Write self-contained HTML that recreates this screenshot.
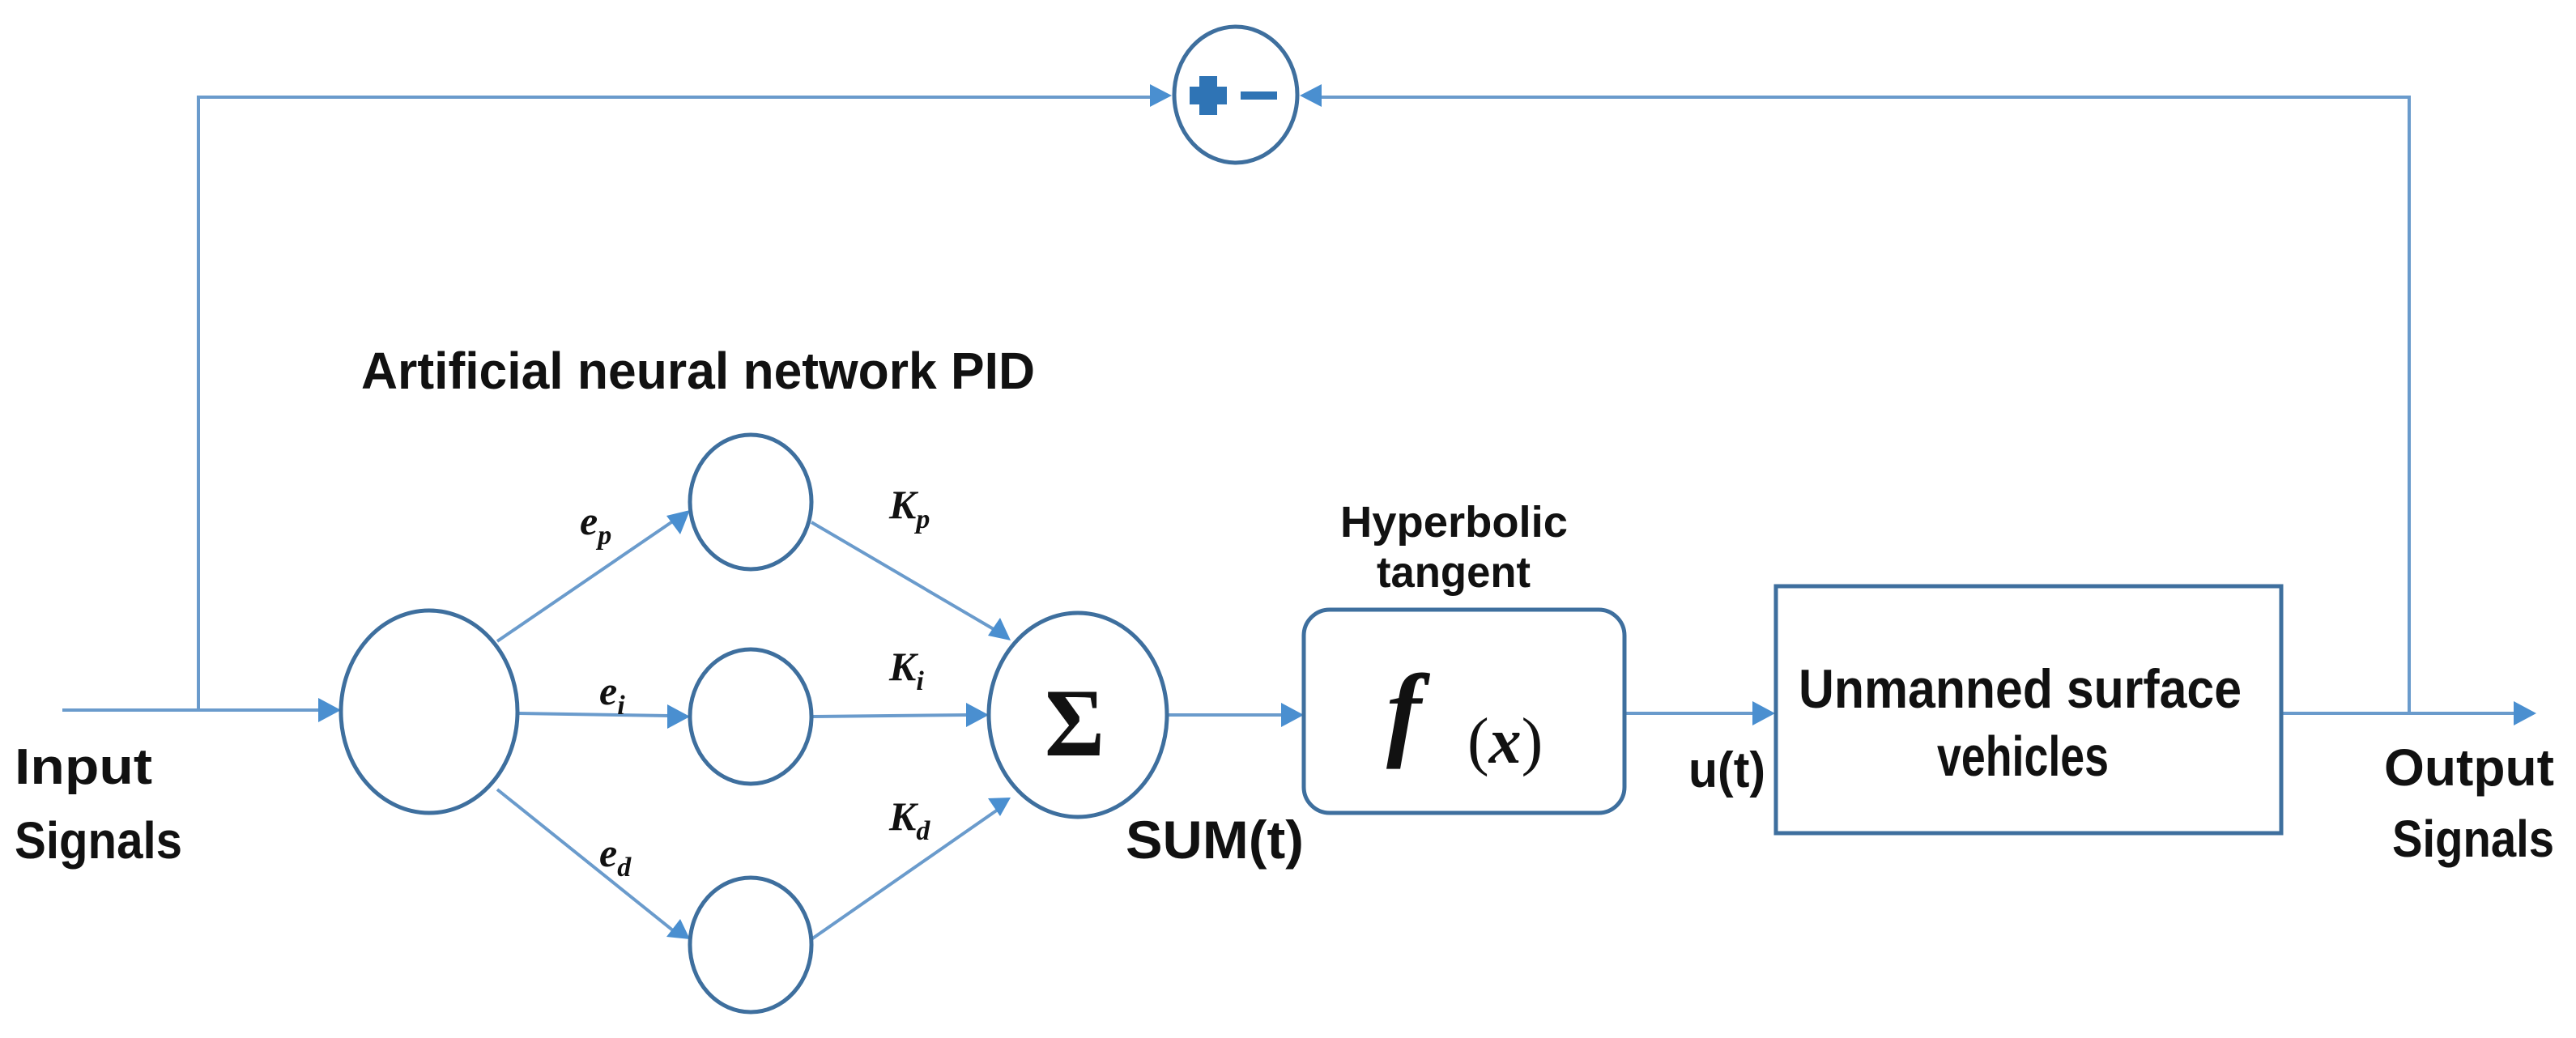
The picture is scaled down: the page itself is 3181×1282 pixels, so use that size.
<!DOCTYPE html>
<html><head><meta charset="utf-8"><style>
html,body{margin:0;padding:0;background:#fff;}
svg{display:block;}
text{font-family:"Liberation Sans",sans-serif;font-weight:bold;fill:#111;}
</style></head><body>
<svg width="3181" height="1282" viewBox="0 0 3181 1282" xmlns="http://www.w3.org/2000/svg">
<g stroke="#6a9bcc" stroke-width="4" fill="none">
  <polyline points="245,877 245,120 1420,120"/>
  <polyline points="2975,879 2975,120 1632,120"/>
  <line x1="77" y1="877" x2="395" y2="877"/>
  <line x1="640" y1="881" x2="826" y2="884"/>
  <line x1="614" y1="792" x2="832" y2="643"/>
  <line x1="614" y1="975" x2="832" y2="1150"/>
  <line x1="1002" y1="645" x2="1232" y2="780"/>
  <line x1="1002" y1="885" x2="1195" y2="883"/>
  <line x1="1002" y1="1160" x2="1232" y2="1000"/>
  <line x1="1441" y1="883" x2="1585" y2="883"/>
  <line x1="2006" y1="881" x2="2165" y2="881"/>
  <line x1="2817" y1="881" x2="3105" y2="881"/>
</g>
<g fill="#4a8fd0">
  <polygon points="1447,118 1420,104 1420,132"/>
  <polygon points="1605,118 1632,104 1632,132"/>
  <polygon points="421,877 393,862 393,892"/>
  <polygon points="852,885 824,870 824,900"/>
  <polygon points="852,630 823,637 840,660"/>
  <polygon points="852,1160 840,1135 823,1157"/>
  <polygon points="1221,883 1193,868 1193,898"/>
  <polygon points="1248,791 1220,785 1235,763"/>
  <polygon points="1248,985 1235,1008 1220,986"/>
  <polygon points="1610,883 1582,868 1582,898"/>
  <polygon points="2192,881 2164,866 2164,896"/>
  <polygon points="3132,881 3104,866 3104,896"/>
</g>
<g stroke="#3e6f9e" stroke-width="5" fill="#fff">
  <ellipse cx="1526" cy="117" rx="76" ry="84"/>
  <ellipse cx="530" cy="879" rx="109" ry="125"/>
  <ellipse cx="927" cy="620" rx="75" ry="83"/>
  <ellipse cx="927" cy="885" rx="75" ry="83"/>
  <ellipse cx="927" cy="1167" rx="75" ry="83"/>
  <ellipse cx="1331" cy="883" rx="110" ry="126"/>
  <rect x="1610" y="753" width="396" height="251" rx="32"/>
  <rect x="2193" y="724" width="624" height="305"/>
</g>
<g fill="#2f74b5">
  <rect x="1469" y="107" width="46" height="22"/>
  <rect x="1481" y="94" width="22" height="48"/>
  <rect x="1532" y="113" width="45" height="10"/>
</g>
<text x="446" y="480" font-size="64" textLength="832" lengthAdjust="spacingAndGlyphs">Artificial neural network PID</text>
<text x="18" y="968" font-size="62" textLength="170" lengthAdjust="spacingAndGlyphs">Input</text>
<text x="18" y="1060" font-size="64" textLength="207" lengthAdjust="spacingAndGlyphs">Signals</text>
<text x="2944" y="970" font-size="64" textLength="210" lengthAdjust="spacingAndGlyphs">Output</text>
<text x="2954" y="1058" font-size="64" textLength="200" lengthAdjust="spacingAndGlyphs">Signals</text>
<text x="1655" y="663" font-size="54" textLength="281" lengthAdjust="spacingAndGlyphs">Hyperbolic</text>
<text x="1700" y="725" font-size="54" textLength="190" lengthAdjust="spacingAndGlyphs">tangent</text>
<text x="1390" y="1060" font-size="66" textLength="220" lengthAdjust="spacingAndGlyphs">SUM(t)</text>
<text x="2085" y="972" font-size="62" textLength="95" lengthAdjust="spacingAndGlyphs">u(t)</text>
<text x="2221" y="874" font-size="68" textLength="547" lengthAdjust="spacingAndGlyphs">Unmanned surface</text>
<text x="2392" y="958" font-size="70" textLength="212" lengthAdjust="spacingAndGlyphs">vehicles</text>
<g style="font-style:italic;">
<text x="716" y="660" font-size="50" style="font-family:'Liberation Serif',serif">e<tspan font-size="34" dy="12">p</tspan></text>
<text x="740" y="870" font-size="50" style="font-family:'Liberation Serif',serif">e<tspan font-size="34" dy="12">i</tspan></text>
<text x="740" y="1070" font-size="50" style="font-family:'Liberation Serif',serif">e<tspan font-size="34" dy="12">d</tspan></text>
<text x="1098" y="640" font-size="50" style="font-family:'Liberation Serif',serif">K<tspan font-size="34" dy="12">p</tspan></text>
<text x="1098" y="840" font-size="50" style="font-family:'Liberation Serif',serif">K<tspan font-size="34" dy="12">i</tspan></text>
<text x="1098" y="1025" font-size="50" style="font-family:'Liberation Serif',serif">K<tspan font-size="34" dy="12">d</tspan></text>
<text x="1712" y="922" font-size="130" style="font-family:'Liberation Serif',serif">f</text>
</g>
<text x="1812" y="942" font-size="80" style="font-family:'Liberation Serif',serif;font-weight:normal">(<tspan font-style="italic" font-weight="bold">x</tspan>)</text>
<text x="1290" y="933" font-size="120" style="font-family:'Liberation Serif',serif" textLength="74" lengthAdjust="spacingAndGlyphs">Σ</text>
</svg>
</body></html>
